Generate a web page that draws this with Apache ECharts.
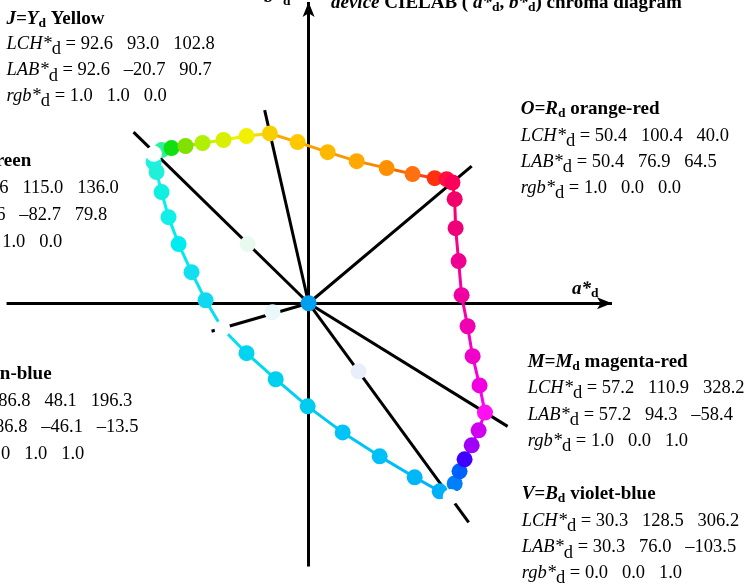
<!DOCTYPE html>
<html>
<head>
<meta charset="utf-8">
<script src="https://cdn.jsdelivr.net/npm/echarts@6/dist/echarts.min.js"></script>
<style>
  html, body { margin: 0; padding: 0; background: #fff; }
  #chart { width: 750px; height: 584px; }
</style>
</head>
<body>
<div id="chart"></div>
<script>
// hexagon edges in (a*, b*), corner to corner
const edgeGJ = [[-82.7, 79.8], [-78.6, 81.8], [-73.3, 82.9], [-65.8, 84.0], [-56.7, 85.6], [-45.5, 87.2], [-33.2, 89.3], [-20.7, 90.7]]
const dotsGJ = ['#30f0a0', '#10e010', '#80e000', '#b0f000', '#d8f000', '#f0f000']
const segsGJ = ['#20e070', '#30e000', '#80e000', '#b0e800', '#d0f000', '#f0f000', '#f8d800']

const edgeJO = [[-20.7, 90.7], [-5.9, 86.1], [10.2, 80.7], [25.7, 75.9], [41.7, 72.2], [55.6, 69.0], [67.4, 66.8], [73.8, 66.3], [76.9, 64.5]]
const dotsJO = ['#ffc800', '#ffb800', '#ffa800', '#ff9000', '#ff7010', '#ff3010', '#ff1040']
const segsJO = ['#f8a800', '#f8a000', '#f89800', '#f88800', '#f86800', '#f84010', '#f81830', '#f80048']

const edgeMO = [[94.3, -58.4], [91.4, -43.9], [87.7, -28.3], [85.0, -12.3], [81.8, 4.3], [80.2, 22.5], [78.6, 40.1], [78.1, 55.6], [76.9, 64.5]]
const dotsMO = ['#f000e0', '#f000c8', '#f000b0', '#f000a0', '#f00090', '#f00078', '#f00068']
const segsMO = ['#f800f0', '#f800d8', '#f800c0', '#f800a8', '#f80098', '#f80088', '#f80070', '#f80060']

const edgeGC = [[-82.7, 79.8], [-82.9, 75.4], [-81.3, 70.1], [-78.6, 59.4], [-74.9, 46.0], [-69.5, 31.6], [-62.6, 16.6], [-55.1, 1.6], [-46.1, -13.5]]
const dotsGC = ['#20f0e0', '#20f0d8', '#10f0e0', '#10f0e8', '#00ecf0', '#10e0f0', '#10d8f0']
const segsGC = ['#10f0f0', '#10f0f0', '#10f0f0', '#00f0f0', '#00ecf0', '#00e8f0', '#00e4f0', '#00e0f0']

const edgeCV = [[-46.1, -13.5], [-33.2, -26.7], [-17.6, -40.6], [-0.5, -55.1], [18.2, -69.0], [38.0, -81.8], [56.7, -93.0], [70.1, -100.5], [76.0, -103.5]]
const dotsCV = ['#00d4f0', '#00d0f0', '#00ccf0', '#00c4f8', '#00c0f8', '#00b8f8', '#00b0f8']
const segsCV = ['#00e0f0', '#00d8f0', '#00d0f0', '#00c8f0', '#00c4f8', '#00bcf8', '#00b4f8', '#00b0f8']

const edgeVM = [[76.0, -103.5], [78.1, -96.3], [80.7, -89.8], [83.4, -83.4], [87.2, -75.9], [90.9, -67.9], [94.3, -58.4]]
const dotsVM = ['#0080f8', '#0060ff', '#4000ff', '#a000f8', '#d000f0']
const segsVM = ['#0090f8', '#0070ff', '#2040ff', '#7000ff', '#c000f8', '#f000f0']

const corners = [[76.9, 64.5], [-20.7, 90.7], [-82.7, 79.8], [-46.1, -13.5], [76.0, -103.5], [94.3, -58.4]]
const cornerColors = ['#ff0058', '#f8d000', '#ffffff', '#ffffff', '#ffffff', '#ff10f0']

// hue lines from the origin
const rayEnds = [[87.2, 73.3], [-23.5, 103.2], [-93.6, 91.4], [-51.9, -15.0], [85.6, -117.1], [106.4, -65.8]]
const paleDots = [[-32.6, 31.6], [-19.3, -4.8], [26.7, -36.4]]
const paleColors = ['#e8faf0', '#eaf8fc', '#e8eefa']

const axisA = [-161.5, 162.2]
const axisB = [-140.6, 160.9]

// text blocks
const lchJ = ['92.6', '93.0', '102.8'], labJ = ['92.6', '–20.7', '90.7'], rgbJ = ['1.0', '1.0', '0.0']
const lchL = ['79.6', '115.0', '136.0'], labL = ['79.6', '–82.7', '79.8'], rgbL = ['0.0', '1.0', '0.0']
const lchC = ['86.8', '48.1', '196.3'], labC = ['86.8', '–46.1', '–13.5'], rgbC = ['0.0', '1.0', '1.0']
const lchO = ['50.4', '100.4', '40.0'], labO = ['50.4', '76.9', '64.5'], rgbO = ['1.0', '0.0', '0.0']
const lchM = ['57.2', '110.9', '328.2'], labM = ['57.2', '94.3', '–58.4'], rgbM = ['1.0', '0.0', '1.0']
const lchV = ['30.3', '128.5', '306.2'], labV = ['30.3', '76.0', '–103.5'], rgbV = ['0.0', '0.0', '1.0']

const FONT = '"Liberation Serif", "Times New Roman", serif'
const rich = {
  n: { fontFamily: FONT, fontSize: 18.5 },
  i: { fontFamily: FONT, fontSize: 18.5, fontStyle: 'italic' },
  s: { fontFamily: FONT, fontSize: 18.5, padding: [11, 0, 0, 0] },
  b: { fontFamily: FONT, fontSize: 19, fontWeight: 'bold' },
  bi: { fontFamily: FONT, fontSize: 19, fontWeight: 'bold', fontStyle: 'italic' },
  bs: { fontFamily: FONT, fontSize: 13.5, fontWeight: 'bold', padding: [9, 0, 0, 0] }
}

function textEl(x, baseline, text) {
  return {
    type: 'text', x: x, y: baseline - 6, silent: true,
    style: { text: text, rich: rich, fill: '#000', align: 'left', verticalAlign: 'middle', font: '18px ' + FONT }
  }
}

function block(x, baselines, head, name, lch, lab, rgb) {
  const rows = [
    '{bi|' + head + '}{bs|d}{b| ' + name + '}',
    '{i|LCH*}{s|d}{n| = ' + lch.join('   ') + '}',
    '{i|LAB*}{s|d}{n| = ' + lab.join('   ') + '}',
    '{i|rgb*}{s|d}{n| = ' + rgb.join('   ') + '}'
  ]
  return rows.map((t, k) => textEl(x, baselines[k], t))
}

function edgeLines(points, colors) {
  return points.slice(1).map((p, i) => ({ coords: [points[i], p], lineStyle: { color: colors[i] } }))
}

function edgeDots(points, colors) {
  return points.slice(1, -1).map((p, i) => ({ value: p, itemStyle: { color: colors[i] } }))
}

const graphics = [].concat(
  block(6.5, [25, 50, 76.5, 102], 'J=Y', 'Yellow', lchJ, labJ, rgbJ),
  block(-98, [167, 194, 221, 248], 'L=G', 'leaf-green', lchL, labL, rgbL),
  block(-76, [380, 407, 433, 460], 'C=C', 'cyan-blue', lchC, labC, rgbC),
  block(520.7, [115, 141.7, 167.7, 194], 'O=R', 'orange-red', lchO, labO, rgbO),
  block(527.7, [368, 394, 421, 447], 'M=M', 'magenta-red', lchM, labM, rgbM),
  block(521.7, [500, 527, 553.5, 579], 'V=B', 'violet-blue', lchV, labV, rgbV),
  [
    textEl(331, 9, '{bi|device}{b| CIELAB ( }{bi|a*}{bs|d}{b|, }{bi|b*}{bs|d}{b|) chroma diagram}'),
    textEl(264, 3, '{bi|b*}{bs|d}'),
    textEl(572, 295, '{bi|a*}{bs|d}')
  ]
)

const chart = echarts.init(document.getElementById('chart'))

const option = {
  animation: false,
  grid: { left: 0, right: 0, top: 0, bottom: 0 },
  xAxis: { type: 'value', min: -165, max: 236, show: false },
  yAxis: { type: 'value', min: -150, max: 162, show: false },
  graphic: graphics,
  series: [
    {
      // axes
      type: 'lines', coordinateSystem: 'cartesian2d',
      symbol: ['none', 'arrow'], symbolSize: [0, [9, 15]],
      lineStyle: { color: '#000', width: 3, opacity: 1, curveness: 0 },
      data: [
        { coords: [[axisA[0], 0], [axisA[1], 0]] },
        { coords: [[0, axisB[0]], [0, axisB[1]]] }
      ]
    },
    {
      type: 'lines', coordinateSystem: 'cartesian2d',
      lineStyle: { color: '#000', width: 3, opacity: 1 },
      data: rayEnds.map(p => ({ coords: [[0, 0], p] }))
    },
    {
      type: 'lines', coordinateSystem: 'cartesian2d',
      lineStyle: { width: 3, opacity: 1 },
      data: [].concat(
        edgeLines(edgeGJ, segsGJ), edgeLines(edgeJO, segsJO), edgeLines(edgeMO, segsMO),
        edgeLines(edgeGC, segsGC), edgeLines(edgeCV, segsCV), edgeLines(edgeVM, segsVM)
      )
    },
    {
      type: 'scatter', symbolSize: 16, itemStyle: { opacity: 1 },
      data: [].concat(
        edgeDots(edgeGJ, dotsGJ), edgeDots(edgeJO, dotsJO), edgeDots(edgeMO, dotsMO),
        edgeDots(edgeGC, dotsGC), edgeDots(edgeCV, dotsCV), edgeDots(edgeVM, dotsVM),
        paleDots.map((p, i) => ({ value: p, itemStyle: { color: paleColors[i] } })),
        [{ value: [0, 0], itemStyle: { color: '#00a0f0' } }]
      )
    },
    {
      type: 'scatter', symbolSize: 16, itemStyle: { opacity: 1 },
      data: corners.map((p, i) => ({ value: p, itemStyle: { color: cornerColors[i] } }))
    }
  ]
}

chart.setOption(option)
</script>
</body>
</html>
